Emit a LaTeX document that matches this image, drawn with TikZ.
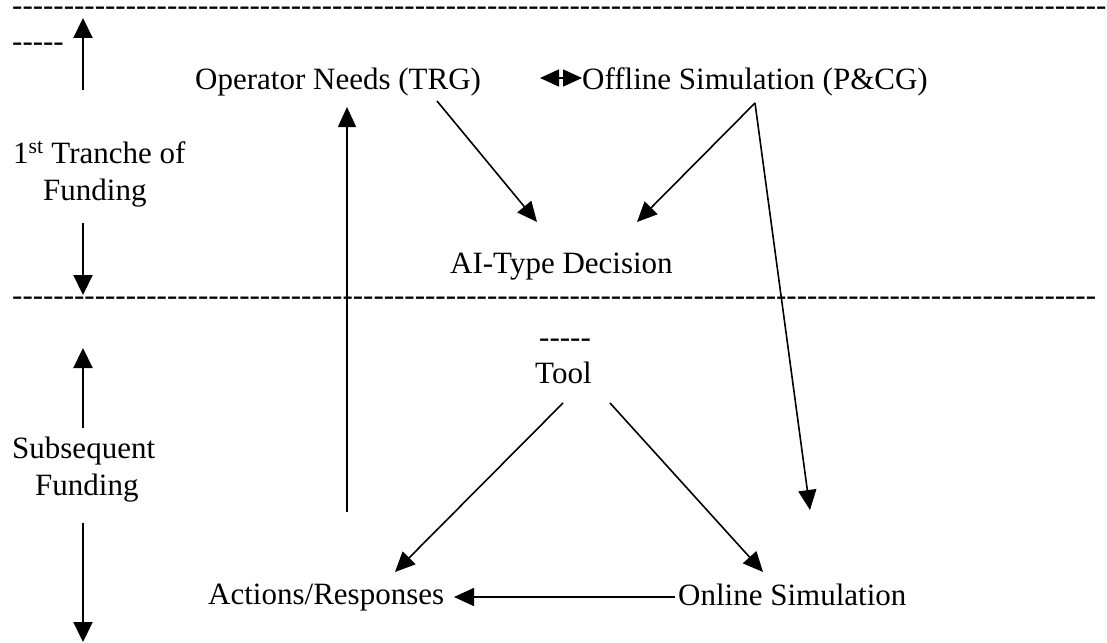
\documentclass[tikz,border=0pt]{standalone}
\usepackage{fontspec}
\setmainfont{Liberation Serif}[Ligatures=TeXOff]
\usetikzlibrary{arrows.meta}
\def\hten{----------}
\def\hfifty{\hten\hten\hten\hten\hten}
\begin{document}
\begin{tikzpicture}[x=1pt,y=-1pt,
  lbl/.style={anchor=base west,inner sep=0pt,font=\fontsize{31}{36}\selectfont},
  link/.style={line width=1.6pt,-{Triangle[length=20pt,width=18pt]}},
  phase/.style={line width=2.2pt,-{Triangle[length=20pt,width=19pt]}},
  swap/.style={line width=1.6pt,{Triangle[length=19pt,width=17pt]}-{Triangle[length=19pt,width=17pt]}},
]
\useasboundingbox (0,0) rectangle (1107,642);
\clip (0,0) rectangle (1107,642);

% separators made of hyphens
\node[lbl] (rowtop) at (12,16) {\hfifty\hfifty------};
\node[lbl] (rowmid) at (12,305) {\hfifty\hfifty-----};
\node[lbl] (dashA) at (12,52) {-----};
\node[lbl] (dashB) at (539,347) {-----};

% phase labels
\node[lbl] (tr1) at (13,163) {1\textsuperscript{st} Tranche of};
\node[lbl] (tr2) at (43,200) {Funding};
\node[lbl] (sb1) at (12,458) {Subsequent};
\node[lbl] (sb2) at (35,495) {Funding};

% process nodes
\node[lbl] (op) at (195,89) {Operator Needs (TRG)};
\node[lbl] (off) at (582,89) {Offline Simulation (P\&CG)};
\node[lbl] (ai) at (450,273) {AI-Type Decision};
\node[lbl] (tool) at (535,383) {Tool};
\node[lbl] (act) at (208,604) {Actions/Responses};
\node[lbl] (onl) at (678,605) {Online Simulation};

% connector end points
\coordinate (upA0) at (83,90);   \coordinate (upA1) at (83,18);
\coordinate (dnA0) at (83,223);  \coordinate (dnA1) at (83,295);
\coordinate (upB0) at (83,428);  \coordinate (upB1) at (83,348);
\coordinate (dnB0) at (83,523);  \coordinate (dnB1) at (83,642);
\coordinate (swL) at (540,78);   \coordinate (swR) at (582,78);
\coordinate (opOut) at (437,101);
\coordinate (aiInL) at (537,222);
\coordinate (offOut) at (755,103);
\coordinate (aiInR) at (637,222);
\coordinate (onlInTop) at (810,510);
\coordinate (toolOutL) at (563,403);
\coordinate (toolOutR) at (610,403);
\coordinate (actIn) at (395,572);
\coordinate (onlIn) at (763,572);
\coordinate (onlOut) at (675,597);
\coordinate (actInR) at (454,597);
\coordinate (actOut) at (347,512);
\coordinate (opIn) at (347,107);

% funding phase arrows
\draw[phase] (upA0) -- (upA1);
\draw[phase] (dnA0) -- (dnA1);
\draw[phase] (upB0) -- (upB1);
\draw[phase] (dnB0) -- (dnB1);

% process links
\draw[swap] (swL) -- (swR);
\draw[link] (opOut) -- (aiInL);
\draw[link] (offOut) -- (aiInR);
\draw[link] (offOut) -- (onlInTop);
\draw[link] (toolOutL) -- (actIn);
\draw[link] (toolOutR) -- (onlIn);
\draw[link] (onlOut) -- (actInR);
\draw[link] (actOut) -- (opIn);
\end{tikzpicture}
\end{document}
